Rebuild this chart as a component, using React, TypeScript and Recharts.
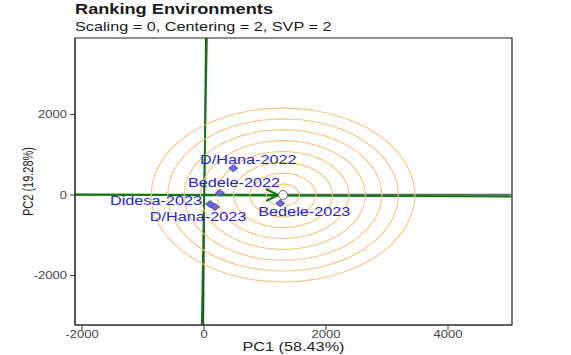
import React from "react";
import {
  ScatterChart,
  Scatter,
  XAxis,
  YAxis,
  ReferenceLine,
  ReferenceDot,
  ReferenceArea,
} from "recharts";

// environment scores (PC1, PC2)
const envNames = ["D/Hana-2022", "Bedele-2022", "Didesa-2023", "D/Hana-2023", "Bedele-2023"];
const envPC1 = [480, 262, 98, 180, 1250];
const envPC2 = [663, 50, -224, -298, -206];

// ideal environment (centre of the rings) and ring radii, in PC units
const idealPC1 = 1295;
const idealPC2 = 0;
const ringRadii = [270, 540, 810, 1080, 1350, 1620, 1890, 2160];

const xTicks = [-2000, 0, 2000, 4000];
const yTicks = [-2000, 0, 2000];
const xDomain = [-2115, 5049];
const yDomain = [-3230, 3900];

const FONT = "'Liberation Sans', Arial, sans-serif";
const STRETCH = 1.3; // the reference is stretched horizontally
const GREEN = "#127a12";
const RING = "#f2c47e";
const LABEL_BLUE = "#2424c8";

// where each label sits relative to its point (px)
const labelPlacement: Record<string, { dx: number; dy: number; anchor: string }> = {
  "D/Hana-2022": { dx: 15, dy: -9, anchor: "middle" },
  "Bedele-2022": { dx: 14, dy: -10, anchor: "middle" },
  "Didesa-2023": { dx: -8, dy: -3, anchor: "end" },
  "D/Hana-2023": { dx: -17, dy: 10, anchor: "middle" },
  "Bedele-2023": { dx: 24, dy: 8, anchor: "middle" },
};

const envData = envNames.map((name, i) => ({ name, x: envPC1[i], y: envPC2[i] }));

// concentric circles around the ideal environment
const ringData = ringRadii.map((r) => {
  const pts = [];
  for (let a = 0; a <= 360; a += 5) {
    const t = (a * Math.PI) / 180;
    pts.push({ x: idealPC1 + r * Math.cos(t), y: idealPC2 + r * Math.sin(t) });
  }
  return pts;
});

const XTick = (props: any) => {
  const { x, y, payload } = props;
  return (
    <g transform={`translate(${x},${y}) scale(${STRETCH},1)`}>
      <text textAnchor="middle" dy="0.71em" fontSize={10} fill="#444" fontFamily={FONT}>
        {payload.value}
      </text>
    </g>
  );
};

const YTick = (props: any) => {
  const { x, y, payload } = props;
  return (
    <g transform={`translate(${x},${y}) scale(${STRETCH},1)`}>
      <text textAnchor="end" dy="0.355em" fontSize={10} fill="#444" fontFamily={FONT}>
        {payload.value}
      </text>
    </g>
  );
};

const EnvPoint = (props: any) => {
  const { cx, cy, payload } = props;
  const p = labelPlacement[payload.name];
  return (
    <g>
      <polygon
        points={`${cx - 4.5},${cy} ${cx},${cy - 3.5} ${cx + 4.5},${cy} ${cx},${cy + 3.5}`}
        fill="#6b6bd6"
        stroke="#3b3bb0"
        strokeWidth={0.8}
      />
      <g transform={`translate(${cx + p.dx},${cy + p.dy}) scale(${STRETCH},1)`}>
        <text
          textAnchor={p.anchor}
          dominantBaseline="central"
          fontSize={12.5}
          fill={LABEL_BLUE}
          fontFamily={FONT}
        >
          {payload.name}
        </text>
      </g>
    </g>
  );
};

const IdealMark = (props: any) => {
  const { cx, cy } = props;
  return (
    <g>
      <line x1={cx - 5} y1={cy} x2={cx - 17} y2={cy - 6} stroke={GREEN} strokeWidth={2} />
      <line x1={cx - 5} y1={cy} x2={cx - 17} y2={cy + 6} stroke={GREEN} strokeWidth={2} />
      <circle cx={cx} cy={cy} r={4.5} fill="#fff" stroke="#666" strokeWidth={1} />
    </g>
  );
};

const NoDot = () => <g />;

const App = () => {
  return (
    <div style={{ position: "absolute", left: 0, top: 0, width: 570, height: 354, background: "#fff" }}>
      <ScatterChart width={568} height={352} margin={{ top: 38, right: 56, bottom: 0, left: 15 }}>
        <XAxis
          type="number"
          dataKey="x"
          domain={xDomain}
          allowDataOverflow
          ticks={xTicks}
          height={27}
          tickSize={5}
          tickMargin={1}
          stroke="#333"
          tick={<XTick />}
        />
        <YAxis
          type="number"
          dataKey="y"
          domain={yDomain}
          allowDataOverflow
          ticks={yTicks}
          width={60}
          tickSize={5}
          tickMargin={3}
          stroke="#333"
          tick={<YTick />}
        />
        {ringData.map((ring, i) => (
          <Scatter
            key={"ring" + i}
            data={ring}
            line={{ stroke: RING, strokeWidth: 1.1 }}
            lineType="joint"
            shape={<NoDot />}
            isAnimationActive={false}
          />
        ))}
        <ReferenceLine
          segment={[{ x: xDomain[0], y: 8 }, { x: xDomain[1], y: 8 }]}
          stroke="#666"
          strokeWidth={2}
        />
        <ReferenceLine
          segment={[{ x: xDomain[0], y: 10 }, { x: xDomain[1], y: -40 }]}
          stroke={GREEN}
          strokeWidth={2}
        />
        <ReferenceLine
          segment={[{ x: 28, y: yDomain[1] }, { x: -11, y: yDomain[0] }]}
          stroke="#333"
          strokeWidth={1.5}
        />
        <ReferenceLine
          segment={[{ x: 45, y: yDomain[1] }, { x: -35, y: yDomain[0] }]}
          stroke={GREEN}
          strokeWidth={2}
        />
        <ReferenceLine
          segment={[{ x: 0, y: 0 }, { x: idealPC1, y: idealPC2 }]}
          stroke={GREEN}
          strokeWidth={2}
        />
        <ReferenceDot x={idealPC1} y={idealPC2} r={4} shape={<IdealMark />} />
        <Scatter data={envData} shape={<EnvPoint />} isAnimationActive={false} />
        <ReferenceArea
          x1={xDomain[0]}
          x2={xDomain[1]}
          y1={yDomain[0]}
          y2={yDomain[1]}
          fill="none"
          stroke="#222"
          strokeWidth={1.2}
        />
      </ScatterChart>
      <svg
        width={570}
        height={354}
        style={{ position: "absolute", left: 0, top: 0, pointerEvents: "none" }}
      >
        <g transform={`translate(75,14) scale(${STRETCH},1)`}>
          <text fontSize={14} fontWeight="bold" fill="#1a1a1a" fontFamily={FONT}>
            Ranking Environments
          </text>
        </g>
        <g transform={`translate(75,31) scale(${STRETCH},1)`}>
          <text fontSize={12.5} fill="#1a1a1a" fontFamily={FONT}>
            Scaling = 0, Centering = 2, SVP = 2
          </text>
        </g>
        <g transform={`translate(293.5,351) scale(${STRETCH},1)`}>
          <text fontSize={12.5} textAnchor="middle" fill="#222" fontFamily={FONT}>
            PC1 (58.43%)
          </text>
        </g>
        <g transform={`translate(33,181.5) scale(${STRETCH},1) rotate(-90)`}>
          <text fontSize={11} textAnchor="middle" fill="#222" fontFamily={FONT}>
            PC2 (19.28%)
          </text>
        </g>
      </svg>
    </div>
  );
};

export default App;
